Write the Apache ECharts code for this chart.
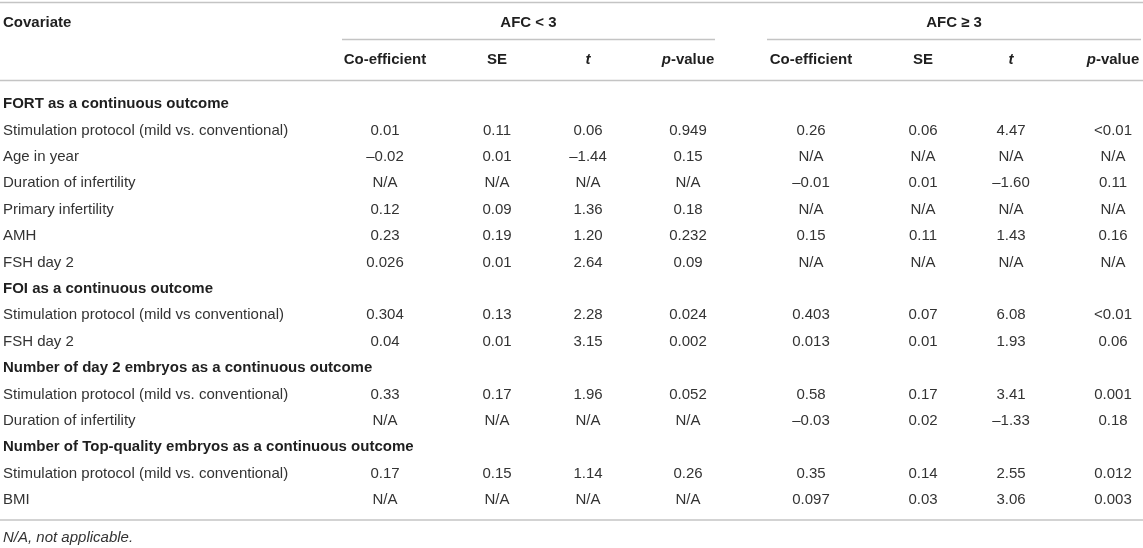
<!DOCTYPE html>
<html>
<head>
<meta charset="utf-8">
<script src="https://cdn.jsdelivr.net/npm/echarts@6/dist/echarts.min.js"></script>
<style>
  html, body { margin: 0; padding: 0; background: #fff; }
  #chart { width: 1143px; height: 548px; }
</style>
</head>
<body>
<div id="chart"></div>
<script>
// table content
const covariates = [
  'FORT as a continuous outcome',
  'Stimulation protocol (mild vs. conventional)',
  'Age in year',
  'Duration of infertility',
  'Primary infertility',
  'AMH',
  'FSH day 2',
  'FOI as a continuous outcome',
  'Stimulation protocol (mild vs conventional)',
  'FSH day 2',
  'Number of day 2 embryos as a continuous outcome',
  'Stimulation protocol (mild vs. conventional)',
  'Duration of infertility',
  'Number of Top-quality embryos as a continuous outcome',
  'Stimulation protocol (mild vs. conventional)',
  'BMI'
];
const sectionRows = [0, 7, 10, 13];

// AFC < 3
const coefLow = ['', '0.01', '–0.02', 'N/A', '0.12', '0.23', '0.026', '', '0.304', '0.04', '', '0.33', 'N/A', '', '0.17', 'N/A'];
const seLow   = ['', '0.11', '0.01', 'N/A', '0.09', '0.19', '0.01', '', '0.13', '0.01', '', '0.17', 'N/A', '', '0.15', 'N/A'];
const tLow    = ['', '0.06', '–1.44', 'N/A', '1.36', '1.20', '2.64', '', '2.28', '3.15', '', '1.96', 'N/A', '', '1.14', 'N/A'];
const pLow    = ['', '0.949', '0.15', 'N/A', '0.18', '0.232', '0.09', '', '0.024', '0.002', '', '0.052', 'N/A', '', '0.26', 'N/A'];

// AFC >= 3
const coefHigh = ['', '0.26', 'N/A', '–0.01', 'N/A', '0.15', 'N/A', '', '0.403', '0.013', '', '0.58', '–0.03', '', '0.35', '0.097'];
const seHigh   = ['', '0.06', 'N/A', '0.01', 'N/A', '0.11', 'N/A', '', '0.07', '0.01', '', '0.17', '0.02', '', '0.14', '0.03'];
const tHigh    = ['', '4.47', 'N/A', '–1.60', 'N/A', '1.43', 'N/A', '', '6.08', '1.93', '', '3.41', '–1.33', '', '2.55', '3.06'];
const pHigh    = ['', '<0.01', 'N/A', '0.11', 'N/A', '0.16', 'N/A', '', '<0.01', '0.06', '', '0.001', '0.18', '', '0.012', '0.003'];

const firstHeader = 'Covariate';
const groupTitles = ['AFC < 3', 'AFC ≥ 3'];
const subHeaders = ['Co-efficient', 'SE', '{i|t}', '{i|p}-value'];
const footnote = 'N/A, not applicable.';

// layout (pixels)
const W = 1143, H = 548;
const labelX = 3;
const colX = [385, 497, 588, 688, 811, 923, 1011, 1113];
const groupSpan = [[342, 715], [767, 1141]];
const headY1 = 23, subRuleY = 39.5, headY2 = 60, headRuleY = 80.5;
const rowTop = 104, rowStep = 26.4;
const topRuleY = 2.5, bottomRuleY = 520, footY = 538;

const bodyFont = '15px "Liberation Sans", Arial, sans-serif';
const boldFont = 'bold 15px "Liberation Sans", Arial, sans-serif';
const bodyColor = '#333333';
const headColor = '#1f1f1f';
const ruleColor = '#c4c4c4';

const valueCols = [coefLow, seLow, tLow, pLow, coefHigh, seHigh, tHigh, pHigh];

// build cells
const cells = [];
cells.push({ pos: [labelX, headY1], text: firstHeader, font: boldFont, fill: headColor, align: 'left' });
groupTitles.forEach((g, i) => {
  const c = (groupSpan[i][0] + groupSpan[i][1]) / 2;
  cells.push({ pos: [c, headY1], text: g, font: boldFont, fill: headColor, align: 'center' });
});
for (let k = 0; k < 8; k++) {
  cells.push({ pos: [colX[k], headY2], text: subHeaders[k % 4], font: boldFont, fill: headColor, align: 'center' });
}
covariates.forEach((name, r) => {
  const y = rowTop + rowStep * r;
  const isSection = sectionRows.indexOf(r) >= 0;
  cells.push({ pos: [labelX, y], text: name, font: isSection ? boldFont : bodyFont,
    fill: isSection ? headColor : bodyColor, align: 'left' });
  valueCols.forEach((col, k) => {
    if (col[r]) cells.push({ pos: [colX[k], y], text: col[r], font: bodyFont, fill: bodyColor, align: 'center' });
  });
});
cells.push({ pos: [labelX, footY], text: footnote, font: 'italic 15px "Liberation Sans", Arial, sans-serif',
  fill: bodyColor, align: 'left' });

// rules: [x1, x2, y]
const rules = [
  [0, W, topRuleY],
  [groupSpan[0][0], groupSpan[0][1], subRuleY],
  [groupSpan[1][0], groupSpan[1][1], subRuleY],
  [0, W, headRuleY],
  [0, W, bottomRuleY]
];

const chart = echarts.init(document.getElementById('chart'));
chart.setOption({
  backgroundColor: '#ffffff',
  animation: false,
  grid: { left: 0, right: 0, top: 0, bottom: 0 },
  xAxis: { type: 'value', min: 0, max: W, show: false },
  yAxis: { type: 'value', min: 0, max: H, inverse: true, show: false },
  series: [
    {
      type: 'custom',
      silent: true,
      data: rules,
      renderItem: (params, api) => {
        const a = api.coord([api.value(0), api.value(2)]);
        const b = api.coord([api.value(1), api.value(2)]);
        return {
          type: 'line',
          shape: { x1: a[0], y1: a[1], x2: b[0], y2: b[1] },
          style: { stroke: ruleColor, lineWidth: 1.6 }
        };
      }
    },
    {
      type: 'custom',
      silent: true,
      data: cells.map(c => c.pos),
      renderItem: (params, api) => {
        const c = cells[params.dataIndex];
        const p = api.coord([api.value(0), api.value(1)]);
        return {
          type: 'text',
          x: p[0],
          y: p[1],
          style: {
            text: c.text,
            font: c.font,
            fill: c.fill,
            align: c.align,
            verticalAlign: 'middle',
            rich: { i: { font: 'italic ' + c.font, fill: c.fill } }
          }
        };
      }
    }
  ]
});
</script>
</body>
</html>
